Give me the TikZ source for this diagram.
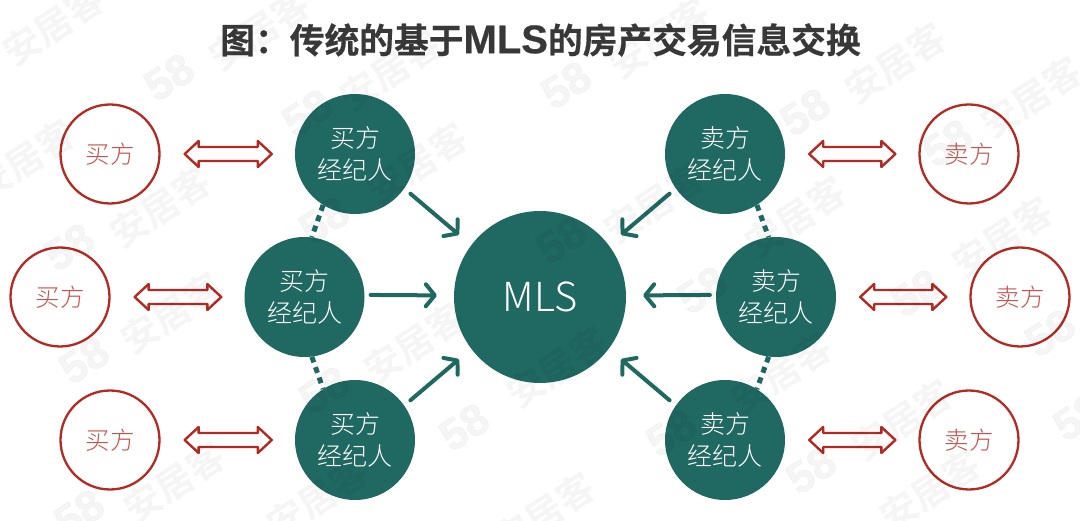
\documentclass[tikz,border=0pt]{standalone}
\usepackage{fontspec}
\usetikzlibrary{calc,arrows.meta}
\newfontfamily\cjkbold[FakeBold=0.5]{Noto Sans CJK SC Bold}
\newfontfamily\wmfont{Noto Sans CJK SC Bold}
\newfontfamily\wmnumfont[FakeBold=1]{Liberation Sans Bold}
\newfontfamily\latinbold[FakeBold=0.5]{Liberation Sans Bold}
\newfontfamily\cjklight{Noto Sans CJK SC Light}
\definecolor{teal1}{HTML}{206862}
\definecolor{red1}{HTML}{B22A22}
\definecolor{redtext}{HTML}{C4534C}
\definecolor{titlec}{HTML}{383838}
\tikzset{
  x=1pt,y=-1pt,
  buyer/.style={circle,draw=red1,line width=2.3pt,fill=white,minimum size=99pt,inner sep=0pt,text=redtext,font=\cjklight\fontsize{24.5}{28}\selectfont},
  agent/.style={circle,fill=teal1,minimum size=120pt,inner sep=0pt,text=white,align=center,font=\cjklight\fontsize{25}{32}\selectfont},
  hub/.style={circle,fill=teal1,minimum size=172pt,inner sep=0pt,text=white,font=\cjklight\fontsize{40}{44}\selectfont},
  flow/.style={draw=teal1,line width=4pt,line cap=round,-{Straight Barb[length=9pt,width=22pt,line width=4pt,round]}},
  link/.style={draw=teal1,line width=5pt,dash pattern=on 6pt off 5pt},
  dbl/.style={draw=red1,line width=2.4pt,line join=round,fill=white},
  title/.style={font=\cjkbold\fontsize{34.75}{40}\selectfont,text=titlec},
  wmark/.style={text=black,opacity=0.04,font=\wmfont\fontsize{37}{40}\selectfont,rotate=33},
  wmnum/.style={text=black,opacity=0.04,font=\wmnumfont\fontsize{44}{46}\selectfont,rotate=33}
}
\newcommand{\dblarrow}[3]{%
  \coordinate (#3A) at ($(#1.east)+(24,0)$);
  \coordinate (#3B) at ($(#2.west)+(-23,0)$);
  \draw[dbl] (#3A) -- ($(#3A)+(14,-13)$) -- ($(#3A)+(14,-7)$) -- ($(#3B)+(-14,-7)$) -- ($(#3B)+(-14,-13)$) -- (#3B) -- ($(#3B)+(-14,13)$) -- ($(#3B)+(-14,7)$) -- ($(#3A)+(14,7)$) -- ($(#3A)+(14,13)$) -- cycle;}
\begin{document}
\begin{tikzpicture}
\useasboundingbox (0,0) rectangle (1080,521);
\node[title] (t) at (540.5,40) {图：传统的基于{\latinbold\fontsize{40}{40}\selectfont MLS}的房产交易信息交换};
\node[hub] (m) at (540,297) {MLS};
\node[agent] (a1) at (355,154) {买方\\经纪人};
\node[agent] (a2) at (304.5,297) {买方\\经纪人};
\node[agent] (a3) at (355,440) {买方\\经纪人};
\node[agent] (s1) at (725,154) {卖方\\经纪人};
\node[agent] (s2) at (776,297) {卖方\\经纪人};
\node[agent] (s3) at (725,440) {卖方\\经纪人};
\node[buyer] (b1) at (110,154) {买方};
\node[buyer] (b2) at (60,297) {买方};
\node[buyer] (b3) at (110,440) {买方};
\node[buyer] (c1) at (969,154) {卖方};
\node[buyer] (c2) at (1020,297) {卖方};
\node[buyer] (c3) at (969,440) {卖方};
\dblarrow{b1}{a1}{d1}
\dblarrow{b2}{a2}{d2}
\dblarrow{b3}{a3}{d3}
\dblarrow{s1}{c1}{d4}
\dblarrow{s2}{c2}{d5}
\dblarrow{s3}{c3}{d6}
\draw[link] (a1.-122) -- (a2.83);
\draw[link] (a2.-83) -- (a3.122);
\draw[link] (s1.-58) -- (s2.97);
\draw[link] (s2.-97) -- (s3.58);
\draw[flow,shorten <=8pt,shorten >=16pt] (a1.-35) -- (m.143);
\draw[flow,shorten <=6pt,shorten >=17pt] (a2.2) -- (m.179);
\draw[flow,shorten <=8pt,shorten >=16pt] (a3.35) -- (m.-143);
\draw[flow,shorten <=8pt,shorten >=16pt] (s1.-145) -- (m.37);
\draw[flow,shorten <=6pt,shorten >=17pt] (s2.178) -- (m.1);
\draw[flow,shorten <=8pt,shorten >=16pt] (s3.145) -- (m.-37);
% watermark, laid over everything
\foreach \px/\py in {53/25,259/30,390/70,417/163,24/160,160/207,659/38,895/63,1031/97,654/203,795/217,1002/237,171/313,414/343,174/482,317/498,557/367,781/373,902/420,930/490,544/513}
  \node[wmark] at (\px,\py) {安居客};
\foreach \px/\py in {169/77,307/113,324/220,69/247,566/85,805/112,947/143,561/240,84/360,324/390,464/427,79/513,702/290,916/293,1050/333,671/433,811/470,1078/417}
  \node[wmnum] at (\px,\py) {58};
\end{tikzpicture}
\end{document}
